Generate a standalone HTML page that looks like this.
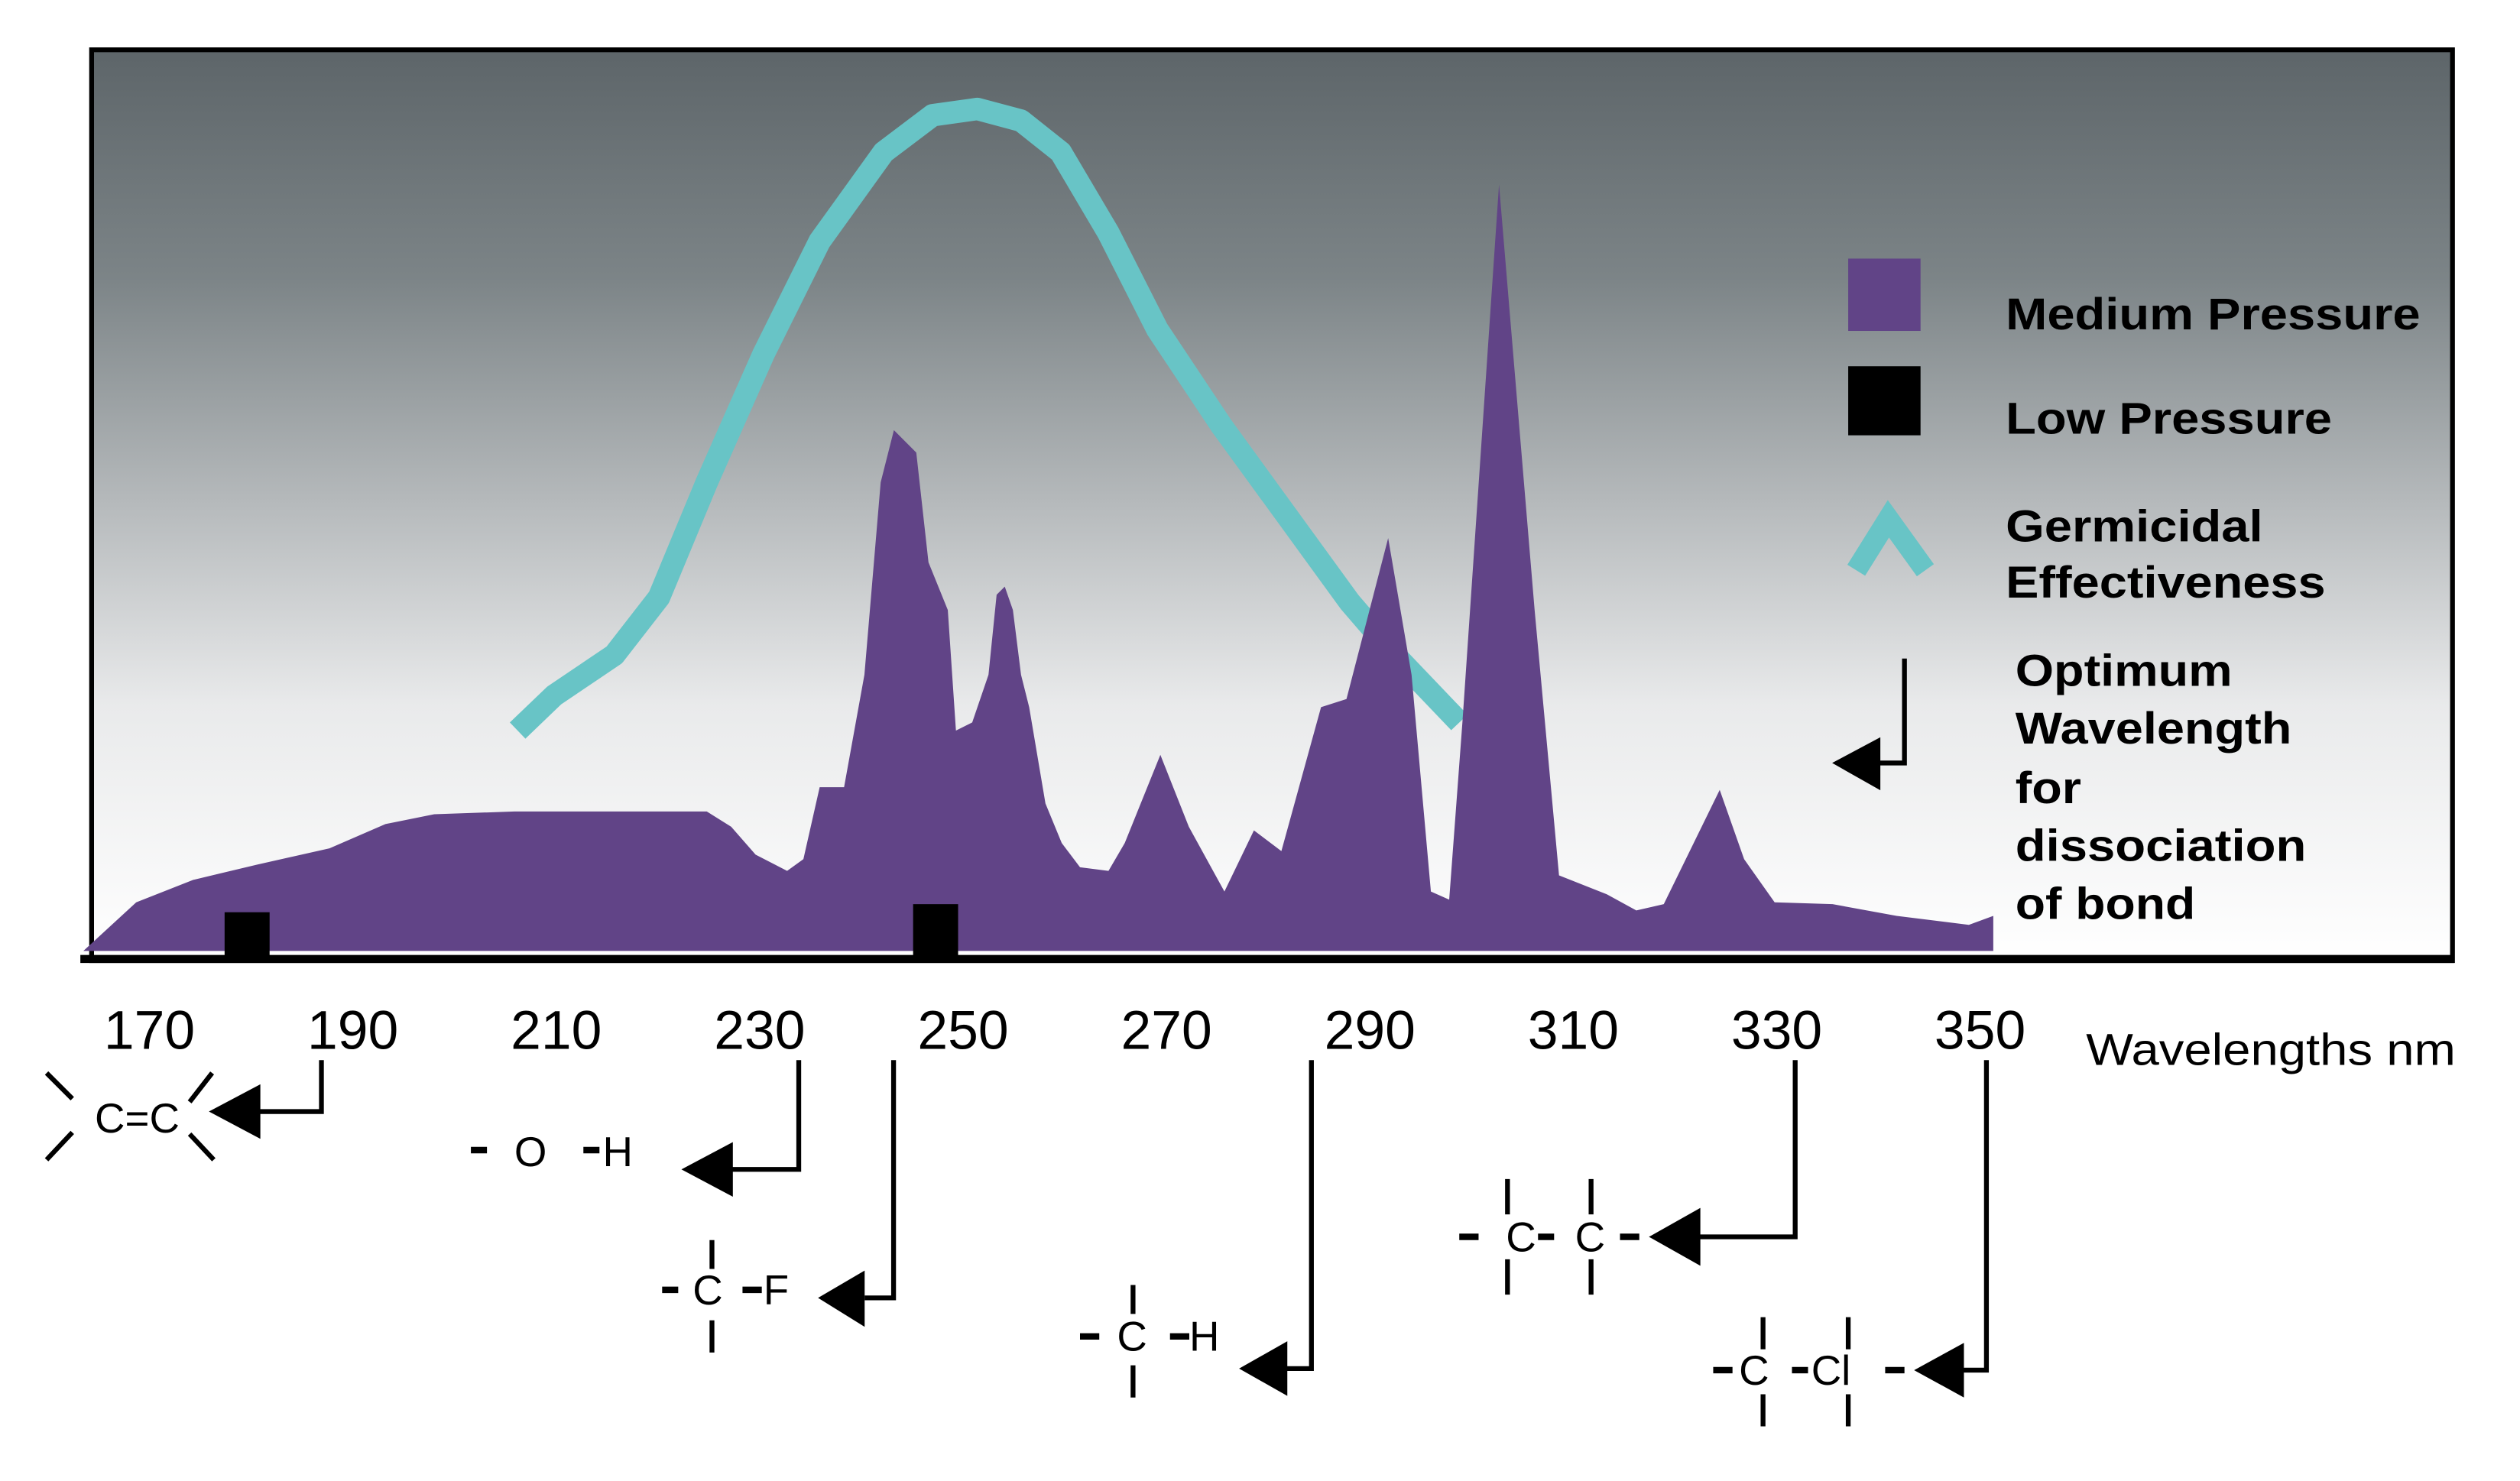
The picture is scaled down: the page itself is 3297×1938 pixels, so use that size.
<!DOCTYPE html>
<html><head><meta charset="utf-8"><style>
html,body{margin:0;padding:0;background:#fff;}
svg{display:block;}
text{font-family:"Liberation Sans",sans-serif;}
</style></head><body>
<svg id="chart" width="3297" height="1938" viewBox="0 0 1568 922" preserveAspectRatio="none" xmlns="http://www.w3.org/2000/svg">
<defs>
<linearGradient id="bg" x1="0" y1="0" x2="0" y2="1">
<stop offset="0" stop-color="#5d6569"/>
<stop offset="0.25" stop-color="#7c8487"/>
<stop offset="0.5" stop-color="#b6babc"/>
<stop offset="0.72" stop-color="#e9eaeb"/>
<stop offset="1" stop-color="#ffffff"/>
</linearGradient>
</defs>
<rect x="57" y="31" width="1469" height="567" fill="url(#bg)" stroke="#000" stroke-width="3"/>
<g id="marks"></g>
<line x1="50" y1="597" x2="1527" y2="597" stroke="#000" stroke-width="5"/>
<g id="ticks" font-size="34" fill="#000" text-anchor="middle"></g>
<text x="1298" y="663" font-size="28" textLength="230" lengthAdjust="spacingAndGlyphs">Wavelengths nm</text>

<g>
<rect x="1150" y="161" width="45" height="45" fill="#614487"/>
<text x="1248" y="205" font-size="28" font-weight="bold" textLength="258" lengthAdjust="spacingAndGlyphs">Medium Pressure</text>
<rect x="1150" y="228" width="45" height="43" fill="#000"/>
<text x="1248" y="270" font-size="28" font-weight="bold" textLength="203" lengthAdjust="spacingAndGlyphs">Low Pressure</text>
<polyline points="1155,355 1175,323 1198,355" fill="none" stroke="#68c4c6" stroke-width="13"/>
<text x="1248" y="337" font-size="28" font-weight="bold" textLength="160" lengthAdjust="spacingAndGlyphs">Germicidal</text>
<text x="1248" y="372" font-size="28" font-weight="bold" textLength="199" lengthAdjust="spacingAndGlyphs">Effectiveness</text>
<polyline points="1185,410 1185,475 1168,475" fill="none" stroke="#000" stroke-width="3"/>
<polygon points="1140,475 1170,459 1170,492" fill="#000"/>
<g font-size="28" font-weight="bold" lengthAdjust="spacingAndGlyphs">
<text x="1254" y="427" textLength="135" lengthAdjust="spacingAndGlyphs">Optimum</text><text x="1254" y="463" textLength="172" lengthAdjust="spacingAndGlyphs">Wavelength</text><text x="1254" y="500" textLength="41" lengthAdjust="spacingAndGlyphs">for</text><text x="1254" y="536" textLength="181" lengthAdjust="spacingAndGlyphs">dissociation</text><text x="1254" y="572" textLength="112" lengthAdjust="spacingAndGlyphs">of bond</text>
</g>
</g>

<g stroke="#000" fill="none" stroke-width="3">
<polyline points="200,660 200,692 158,692"/><polygon points="130,692 162,675 162,709" fill="#000" stroke="none"/>
<line x1="29" y1="668" x2="45" y2="684"/><line x1="45" y1="705" x2="29" y2="722"/><line x1="132" y1="668" x2="118" y2="686"/><line x1="118" y1="706" x2="133" y2="722"/>
<polyline points="497,660 497,728 452,728"/><polygon points="424,728 456,711 456,745" fill="#000" stroke="none"/>
<line x1="293" y1="716" x2="303" y2="716" stroke-width="4"/><line x1="363" y1="716" x2="373" y2="716" stroke-width="4"/>
<polyline points="556,660 556,808 538,808"/><polygon points="509,808 538,791 538,826" fill="#000" stroke="none"/>
<line x1="412" y1="803" x2="422" y2="803" stroke-width="4"/><line x1="462" y1="803" x2="474" y2="803" stroke-width="4"/><line x1="443" y1="772" x2="443" y2="790"/><line x1="443" y1="822" x2="443" y2="842"/>
<polyline points="816,660 816,852 800,852"/><polygon points="771,852 801,835 801,869" fill="#000" stroke="none"/>
<line x1="672" y1="832" x2="684" y2="832" stroke-width="4"/><line x1="728" y1="832" x2="740" y2="832" stroke-width="4"/><line x1="705" y1="800" x2="705" y2="818"/><line x1="705" y1="850" x2="705" y2="870"/>
<polyline points="1117,660 1117,770 1055,770"/><polygon points="1026,770 1058,752 1058,788" fill="#000" stroke="none"/>
<line x1="908" y1="770" x2="920" y2="770" stroke-width="4"/><line x1="957" y1="770" x2="967" y2="770" stroke-width="4"/><line x1="1008" y1="770" x2="1020" y2="770" stroke-width="4"/>
<line x1="938" y1="734" x2="938" y2="756"/><line x1="938" y1="784" x2="938" y2="806"/><line x1="990" y1="734" x2="990" y2="756"/><line x1="990" y1="784" x2="990" y2="806"/>
<polyline points="1236,660 1236,853 1220,853"/><polygon points="1191,853 1222,836 1222,870" fill="#000" stroke="none"/>
<line x1="1066" y1="853" x2="1078" y2="853" stroke-width="4"/><line x1="1115" y1="853" x2="1125" y2="853" stroke-width="4"/><line x1="1173" y1="853" x2="1185" y2="853" stroke-width="4"/>
<line x1="1097" y1="820" x2="1097" y2="840"/><line x1="1097" y1="868" x2="1097" y2="888"/><line x1="1150" y1="820" x2="1150" y2="840"/><line x1="1150" y1="868" x2="1150" y2="888"/>
</g>
<g font-size="26" fill="#000">
<text x="59" y="705">C=C</text>
<text x="320" y="726">O</text><text x="375" y="726">H</text>
<text x="431" y="812">C</text><text x="475" y="812">F</text>
<text x="695" y="841">C</text><text x="740" y="841">H</text>
<text x="937" y="779">C</text><text x="980" y="779">C</text>
<text x="1082" y="862">C</text><text x="1127" y="862">Cl</text>
</g>
</svg>
<script>
const tickLabels = [170,190,210,230,250,270,290,310,330,350];
const mediumWl = [163.5,168.7,174.3,180.6,187.7,193.2,198.0,205.9,224.8,227.2,229.6,232.7,234.3,235.9,238.3,240.3,241.9,243.2,245.4,246.6,248.5,249.3,250.9,252.5,253.3,254.1,254.9,255.7,256.5,258.1,259.7,261.5,264.3,265.9,269.4,272.2,275.7,278.6,281.3,285.2,287.7,291.8,294.1,296.0,297.8,299.1,302.7,306.2,308.6,313.3,316.2,318.9,324.4,326.8,329.8,335.5,341.8,348.9,351.3,351.3];
const mediumVal = [0,5.4,7.9,9.6,11.4,14.1,15.2,15.5,15.5,13.8,10.7,8.9,10.2,18.2,18.2,30.7,52.1,57.9,55.4,43.2,37.9,24.5,25.4,30.7,39.6,40.5,37.9,30.7,27.1,16.4,12,9.3,8.9,12,21.8,13.8,6.6,13.4,11.1,27.1,28,45.9,30.7,6.6,5.7,25.4,85.2,37.9,8.4,6.3,4.5,5.2,17.9,10.2,5.4,5.2,3.9,2.9,3.9,0];
const germWl = [206.2,209.8,215.7,220.1,224.8,230.4,235.9,242.2,247.0,251.4,255.7,259.6,264.3,269.1,275.4,281.7,288.0,292.8,298.8];
const germVal = [24.5,28.4,32.9,39.3,52.1,66.4,78.9,88.8,92.9,93.6,92.3,88.8,79.8,69.1,58.4,48.6,38.8,32.5,25.4];
const lowWl = [179.6,247.3];
const lowVal = [4.3,5.2];

const NS = "http://www.w3.org/2000/svg";
function xs(w){ return 93 + (w-170)*6.328; }
function ys(v){ return 592 - v*5.6; }
const marks = document.getElementById('marks');
const ticks = document.getElementById('ticks');

tickLabels.forEach(t=>{
  const el=document.createElementNS(NS,'text');
  el.setAttribute('x',xs(t)); el.setAttribute('y',653);
  
  
  el.textContent=t; ticks.appendChild(el);
});

const pts = mediumWl.map((w,i)=>xs(w)+','+ys(mediumVal[i])).join(' ');
const poly=document.createElementNS(NS,'polygon');
poly.setAttribute('points', xs(mediumWl[0])+','+ys(0)+' '+pts);
poly.setAttribute('fill','#614487');


marks.appendChild(poly);

const gl=document.createElementNS(NS,'polyline');
gl.setAttribute('points', germWl.map((w,i)=>xs(w)+','+ys(germVal[i])).join(' '));
gl.setAttribute('fill','none'); gl.setAttribute('stroke','#68c4c6');
gl.setAttribute('stroke-width','14'); gl.setAttribute('stroke-linejoin','round');


marks.insertBefore(gl, poly);

lowWl.forEach((w,i)=>{
  const r=document.createElementNS(NS,'rect');
  r.setAttribute('x',xs(w)-14); r.setAttribute('width',28);
  r.setAttribute('y',ys(lowVal[i])); r.setAttribute('height',598-ys(lowVal[i]));
  r.setAttribute('fill','#000');
  
  
  marks.appendChild(r);
});
</script>
</body></html>
